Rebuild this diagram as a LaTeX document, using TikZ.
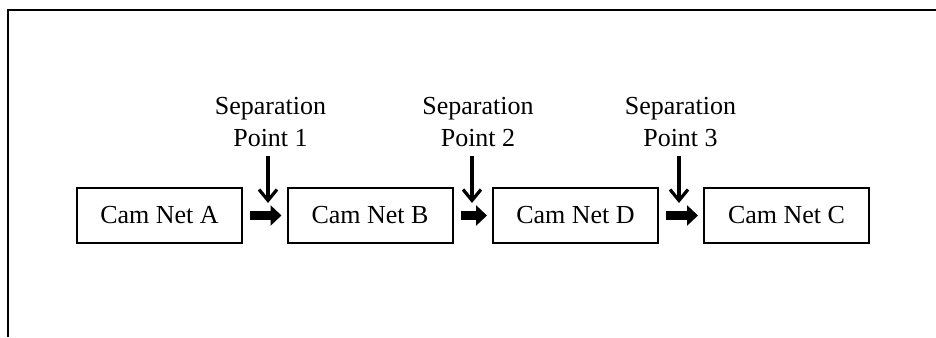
\documentclass[tikz,border=0pt]{standalone}
\usepackage{fontspec}
\setmainfont{Liberation Serif}
\usetikzlibrary{arrows.meta}
\begin{document}
\begin{tikzpicture}[x=1pt,y=-1pt,
  netbox/.style={draw,line width=2pt,minimum width=165pt,minimum height=55pt,inner sep=0pt,font=\fontsize{26}{30}\selectfont},
  seplabel/.style={align=center,inner sep=0pt,anchor=north,font=\fontsize{26}{32}\selectfont},
  blockarrow/.style={line width=9pt,-{Triangle[length=11pt,width=20pt]},shorten <=7pt,shorten >=5pt},
  downarrow/.style={line width=3.2pt,-{Straight Barb[length=11pt,width=18pt]}}]
\useasboundingbox (0,0) rectangle (936,337);
\draw[line width=2.5pt] (8,337) -- (8,10) -- (936,10);
\node[netbox] (A) at (159.5,215.5) {Cam Net A};
\node[netbox] (B) at (370,215.5) {Cam Net B};
\node[netbox] (D) at (575.5,215.5) {Cam Net D};
\node[netbox] (C) at (786.5,215.5) {Cam Net C};
\draw[blockarrow] (A) -- (B);
\draw[blockarrow] (B) -- (D);
\draw[blockarrow] (D) -- (C);
\node[seplabel] (s1) at (270.5,97.5) {Separation\\Point 1};
\node[seplabel] (s2) at (478,97.5) {Separation\\Point 2};
\node[seplabel] (s3) at (680.5,97.5) {Separation\\Point 3};
\coordinate (p1) at (268,203);
\coordinate (p2) at (472,203);
\coordinate (p3) at (679,203);
\coordinate (t1) at (268,156);
\coordinate (t2) at (472,156);
\coordinate (t3) at (679,156);
\draw[downarrow] (t1 |- s1.south) ++(0,9) -- (p1);
\draw[downarrow] (t2 |- s2.south) ++(0,9) -- (p2);
\draw[downarrow] (t3 |- s3.south) ++(0,9) -- (p3);
\end{tikzpicture}
\end{document}
